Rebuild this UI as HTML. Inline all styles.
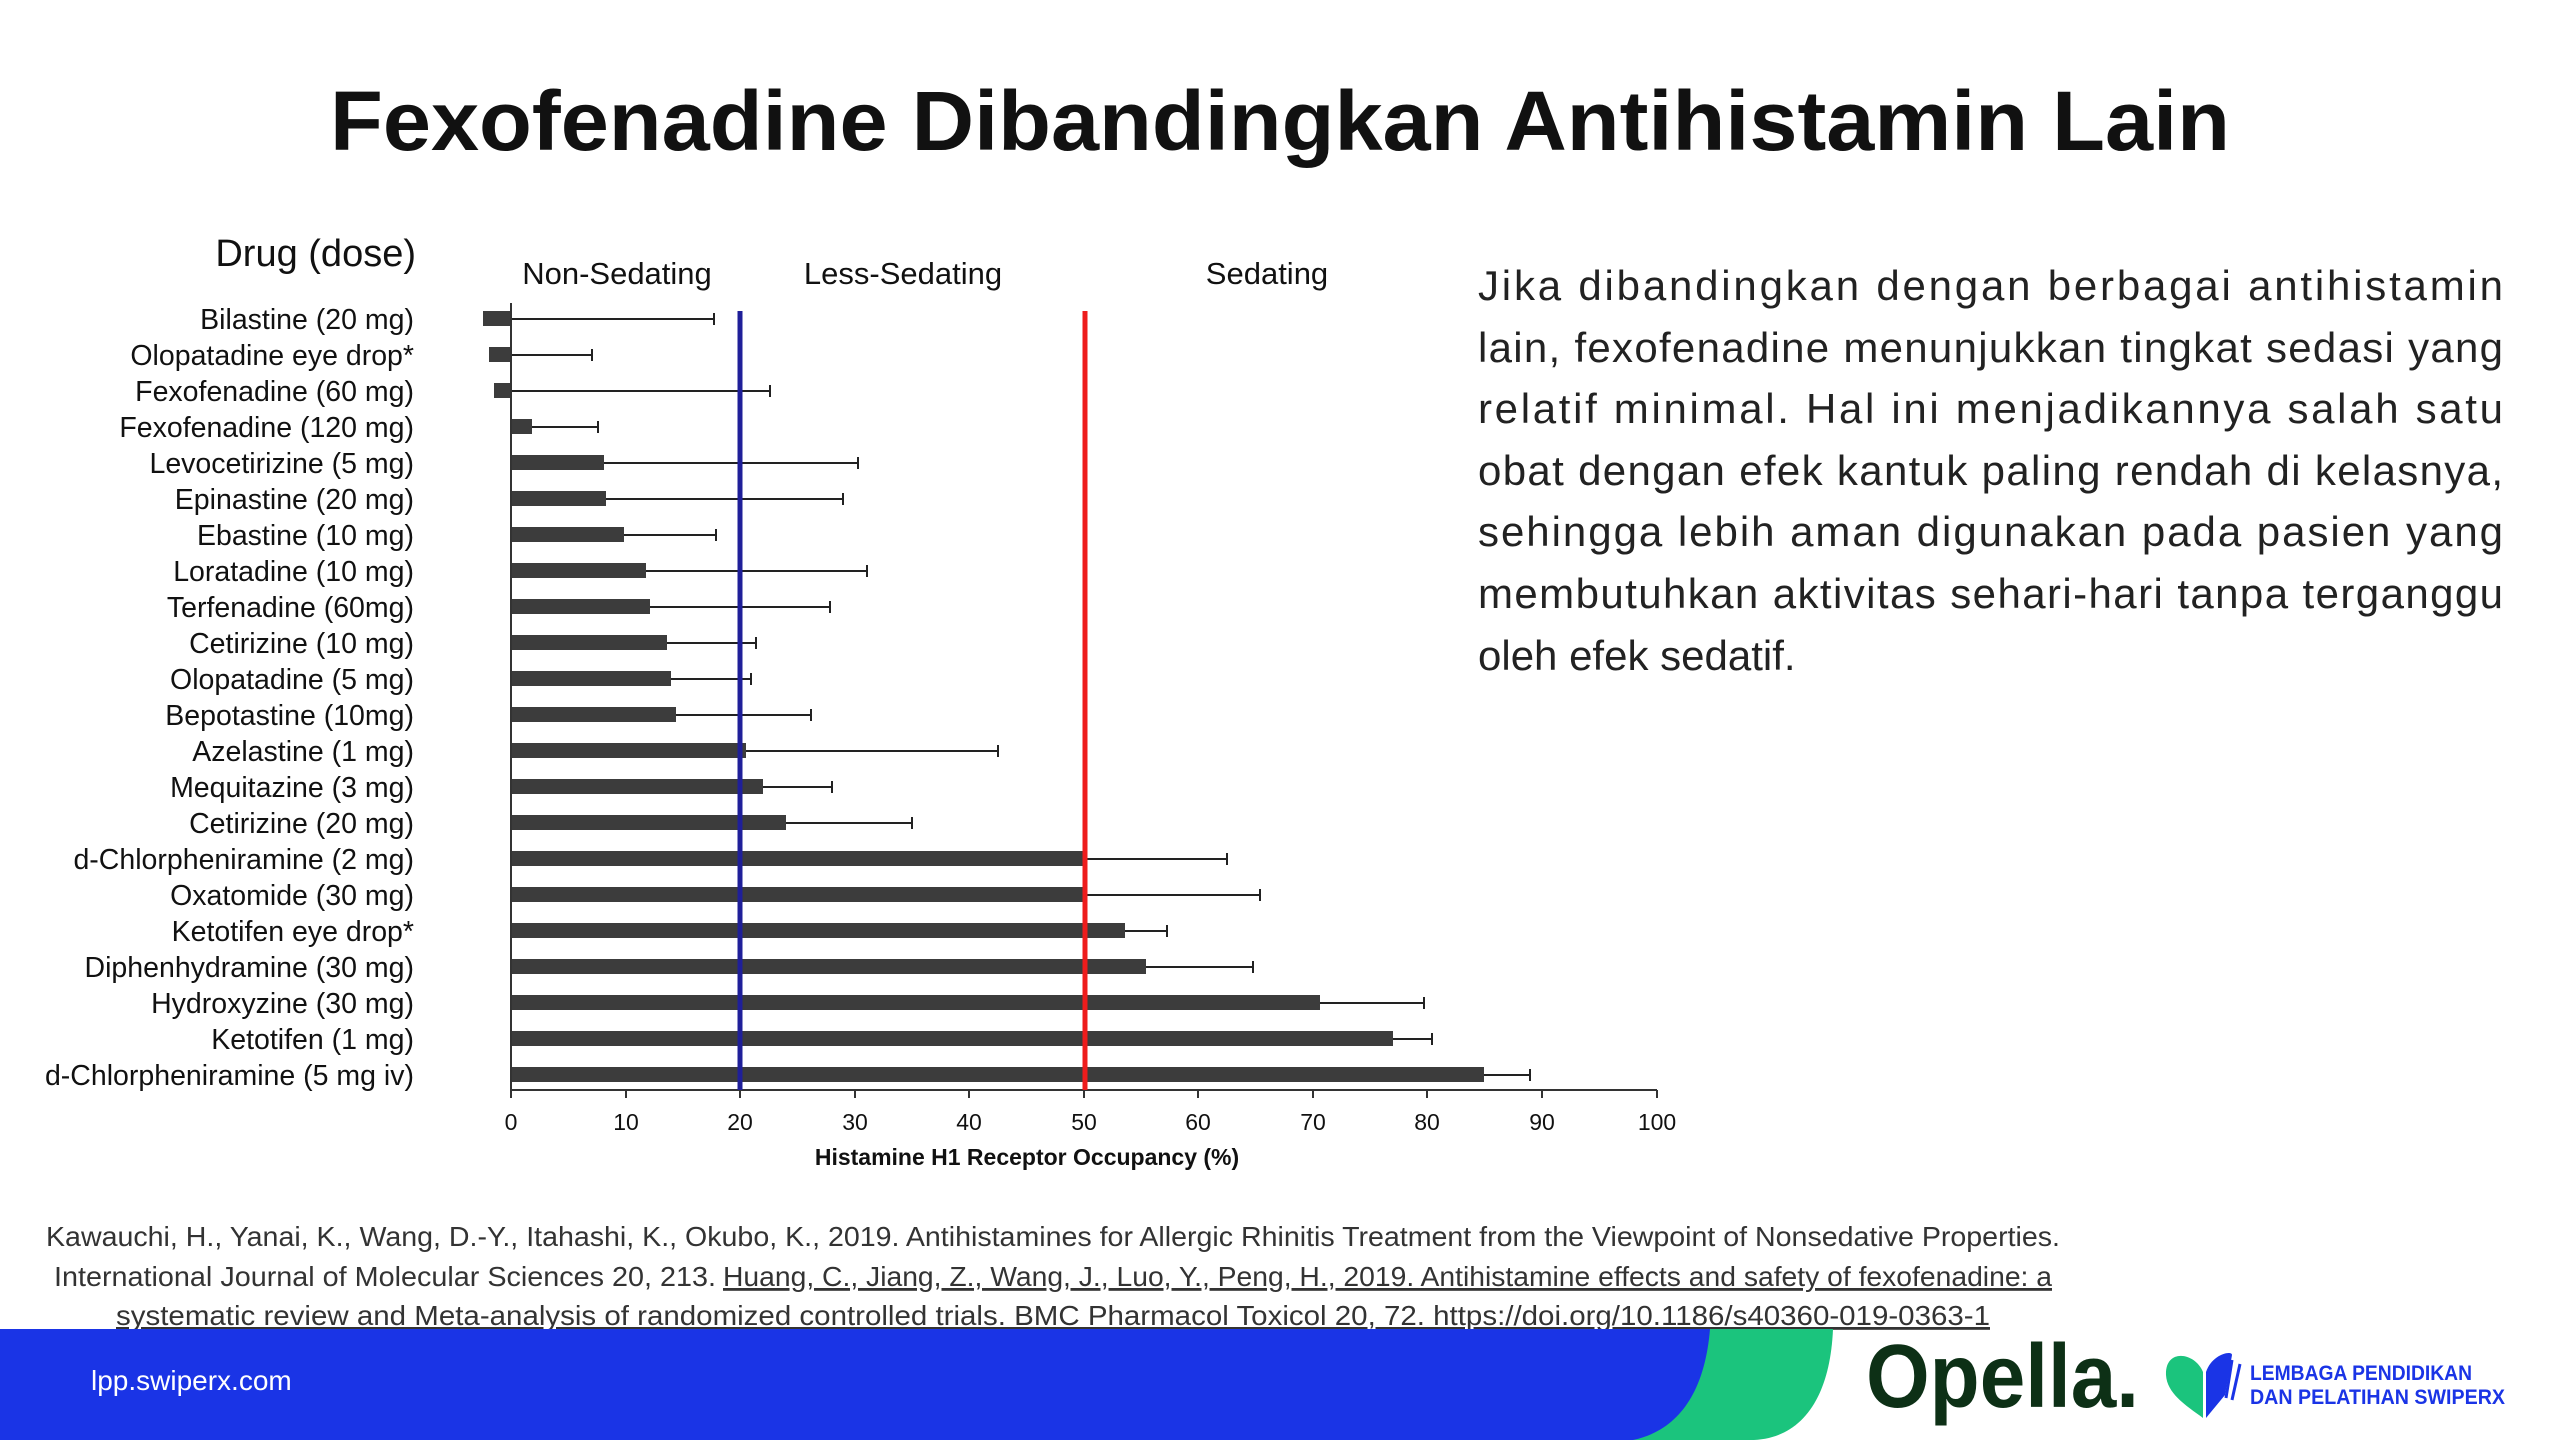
<!DOCTYPE html>
<html><head><meta charset="utf-8"><style>html,body{margin:0;padding:0;background:#fff}svg{display:block}</style></head>
<body>
<svg width="2560" height="1440" viewBox="0 0 2560 1440" xmlns="http://www.w3.org/2000/svg" font-family="Liberation Sans, Arial, sans-serif">
<rect width="2560" height="1440" fill="#fff"/>
<text x="1280" y="150" text-anchor="middle" font-size="84" font-weight="bold" fill="#111" textLength="1900" lengthAdjust="spacingAndGlyphs">Fexofenadine Dibandingkan Antihistamin Lain</text>

<text x="416" y="266" text-anchor="end" font-size="38" fill="#111">Drug (dose)</text>
<text x="617" y="284" text-anchor="middle" font-size="31" fill="#111">Non-Sedating</text>
<text x="903" y="284" text-anchor="middle" font-size="31" fill="#111">Less-Sedating</text>
<text x="1267" y="284" text-anchor="middle" font-size="31" fill="#111">Sedating</text>

<g font-size="28.5" fill="#111" text-anchor="end">
<text x="414" y="329">Bilastine (20 mg)</text>
<text x="414" y="365">Olopatadine eye drop*</text>
<text x="414" y="401">Fexofenadine (60 mg)</text>
<text x="414" y="437">Fexofenadine (120 mg)</text>
<text x="414" y="473">Levocetirizine (5 mg)</text>
<text x="414" y="509">Epinastine (20 mg)</text>
<text x="414" y="545">Ebastine (10 mg)</text>
<text x="414" y="581">Loratadine (10 mg)</text>
<text x="414" y="617">Terfenadine (60mg)</text>
<text x="414" y="653">Cetirizine (10 mg)</text>
<text x="414" y="689">Olopatadine (5 mg)</text>
<text x="414" y="725">Bepotastine (10mg)</text>
<text x="414" y="761">Azelastine (1 mg)</text>
<text x="414" y="797">Mequitazine (3 mg)</text>
<text x="414" y="833">Cetirizine (20 mg)</text>
<text x="414" y="869">d-Chlorpheniramine (2 mg)</text>
<text x="414" y="905">Oxatomide (30 mg)</text>
<text x="414" y="941">Ketotifen eye drop*</text>
<text x="414" y="977">Diphenhydramine (30 mg)</text>
<text x="414" y="1013">Hydroxyzine (30 mg)</text>
<text x="414" y="1049">Ketotifen (1 mg)</text>
<text x="414" y="1085">d-Chlorpheniramine (5 mg iv)</text>
</g>

<g stroke="#222" stroke-width="2" fill="none">
<path d="M511 319H714M714 313v12"/>
<path d="M511 355H592M592 349v12"/>
<path d="M511 391H770M770 385v12"/>
<path d="M532 427H598M598 421v12"/>
<path d="M604 463H858M858 457v12"/>
<path d="M606 499H843M843 493v12"/>
<path d="M624 535H716M716 529v12"/>
<path d="M646 571H867M867 565v12"/>
<path d="M650 607H830M830 601v12"/>
<path d="M667 643H756M756 637v12"/>
<path d="M671 679H751M751 673v12"/>
<path d="M676 715H811M811 709v12"/>
<path d="M746 751H998M998 745v12"/>
<path d="M763 787H832M832 781v12"/>
<path d="M786 823H912M912 817v12"/>
<path d="M1086 859H1227M1227 853v12"/>
<path d="M1086 895H1260M1260 889v12"/>
<path d="M1125 931H1167M1167 925v12"/>
<path d="M1146 967H1253M1253 961v12"/>
<path d="M1320 1003H1424M1424 997v12"/>
<path d="M1393 1039H1432M1432 1033v12"/>
<path d="M1484 1075H1530M1530 1069v12"/>
</g>
<g fill="#3c3c3c">
<rect x="483" y="311" width="28" height="15"/>
<rect x="489" y="347" width="22" height="15"/>
<rect x="494" y="383" width="17" height="15"/>
<rect x="511" y="419" width="21" height="15"/>
<rect x="511" y="455" width="93" height="15"/>
<rect x="511" y="491" width="95" height="15"/>
<rect x="511" y="527" width="113" height="15"/>
<rect x="511" y="563" width="135" height="15"/>
<rect x="511" y="599" width="139" height="15"/>
<rect x="511" y="635" width="156" height="15"/>
<rect x="511" y="671" width="160" height="15"/>
<rect x="511" y="707" width="165" height="15"/>
<rect x="511" y="743" width="235" height="15"/>
<rect x="511" y="779" width="252" height="15"/>
<rect x="511" y="815" width="275" height="15"/>
<rect x="511" y="851" width="575" height="15"/>
<rect x="511" y="887" width="575" height="15"/>
<rect x="511" y="923" width="614" height="15"/>
<rect x="511" y="959" width="635" height="15"/>
<rect x="511" y="995" width="809" height="15"/>
<rect x="511" y="1031" width="882" height="15"/>
<rect x="511" y="1067" width="973" height="15"/>
</g>

<line x1="511" y1="303" x2="511" y2="1090" stroke="#333" stroke-width="2"/>
<line x1="511" y1="1090" x2="1657" y2="1090" stroke="#333" stroke-width="2"/>
<g stroke="#333" stroke-width="2">
<path d="M511 1090v8M626 1090v8M740 1090v8M855 1090v8M969 1090v8M1084 1090v8M1198 1090v8M1313 1090v8M1427 1090v8M1542 1090v8M1657 1090v8"/>
</g>
<line x1="740" y1="311" x2="740" y2="1090" stroke="#1f1f99" stroke-width="5"/>
<line x1="1085" y1="311" x2="1085" y2="1090" stroke="#ee1c1c" stroke-width="5"/>
<g font-size="23" fill="#111" text-anchor="middle">
<text x="511" y="1130">0</text><text x="626" y="1130">10</text><text x="740" y="1130">20</text><text x="855" y="1130">30</text><text x="969" y="1130">40</text><text x="1084" y="1130">50</text><text x="1198" y="1130">60</text><text x="1313" y="1130">70</text><text x="1427" y="1130">80</text><text x="1542" y="1130">90</text><text x="1657" y="1130">100</text>
</g>
<text x="1027" y="1165" text-anchor="middle" font-size="23" font-weight="bold" fill="#111">Histamine H1 Receptor Occupancy (%)</text>

<g font-size="42" fill="#222">
<text x="1478" y="300" textLength="1025" lengthAdjust="spacing">Jika dibandingkan dengan berbagai antihistamin</text>
<text x="1478" y="362" textLength="1025" lengthAdjust="spacing">lain, fexofenadine menunjukkan tingkat sedasi yang</text>
<text x="1478" y="423" textLength="1025" lengthAdjust="spacing">relatif minimal. Hal ini menjadikannya salah satu</text>
<text x="1478" y="485" textLength="1025" lengthAdjust="spacing">obat dengan efek kantuk paling rendah di kelasnya,</text>
<text x="1478" y="546" textLength="1025" lengthAdjust="spacing">sehingga lebih aman digunakan pada pasien yang</text>
<text x="1478" y="608" textLength="1025" lengthAdjust="spacing">membutuhkan aktivitas sehari-hari tanpa terganggu</text>
<text x="1478" y="670">oleh efek sedatif.</text>
</g>

<g font-size="28" fill="#333">
<text x="46" y="1246" textLength="2014" lengthAdjust="spacingAndGlyphs">Kawauchi, H., Yanai, K., Wang, D.-Y., Itahashi, K., Okubo, K., 2019. Antihistamines for Allergic Rhinitis Treatment from the Viewpoint of Nonsedative Properties.</text>
<text x="54" y="1286" textLength="662" lengthAdjust="spacingAndGlyphs">International Journal of Molecular Sciences 20, 213.</text>
<text x="723" y="1286" textLength="1329" lengthAdjust="spacingAndGlyphs" text-decoration="underline">Huang, C., Jiang, Z., Wang, J., Luo, Y., Peng, H., 2019. Antihistamine effects and safety of fexofenadine: a</text>
<text x="116" y="1325" textLength="1874" lengthAdjust="spacingAndGlyphs" text-decoration="underline">systematic review and Meta-analysis of randomized controlled trials. BMC Pharmacol Toxicol 20, 72. https://doi.org/10.1186/s40360-019-0363-1</text>
</g>

<path d="M1600 1329H1833C1830 1400 1800 1440 1750 1440H1600Z" fill="#1bc47d"/>
<path d="M0 1329H1710C1705 1390 1680 1430 1633 1440H0Z" fill="#1a34e6"/>
<text x="91" y="1390" font-size="28" fill="#fff">lpp.swiperx.com</text>
<text x="1866" y="1407" font-size="90" font-weight="bold" fill="#0d3016" textLength="273" lengthAdjust="spacingAndGlyphs">Opella.</text>
<path d="M2203 1372C2195 1352 2165 1348 2166 1375C2167 1395 2190 1408 2203 1418Z" fill="#1bc47d"/>
<path d="M2206 1372C2212 1354 2232 1350 2232 1355L2225 1395L2206 1418Z" fill="#1a34e6"/>
<path d="M2232 1360L2226 1398M2240 1364L2232 1400" stroke="#1a34e6" stroke-width="3"/>
<g font-size="21" font-weight="bold" fill="#1a34e6">
<text x="2250" y="1380" textLength="222" lengthAdjust="spacingAndGlyphs">LEMBAGA PENDIDIKAN</text>
<text x="2250" y="1404" textLength="255" lengthAdjust="spacingAndGlyphs">DAN PELATIHAN SWIPERX</text>
</g>
</svg>
</body></html>
